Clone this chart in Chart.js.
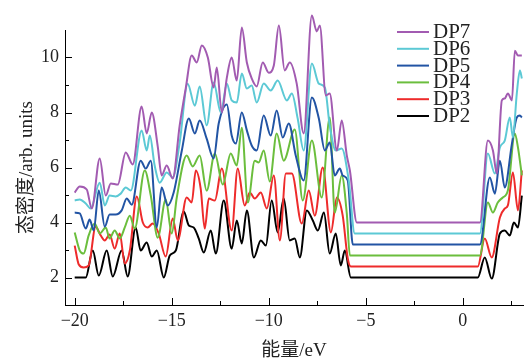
<!DOCTYPE html>
<html>
<head>
<meta charset="utf-8">
<script src="https://cdn.jsdelivr.net/npm/chart.js@4.4.0/dist/chart.umd.min.js"></script>
<style>
  html, body { margin: 0; padding: 0; background: #fff; }
</style>
</head>
<body>
<canvas id="dosChart" width="524" height="360"></canvas>
<script>
// 能量 (eV) / 态密度 读数
const dp2E = [-20.00, -19.43, -19.07, -18.76, -18.35, -18.04, -17.58, -17.27, -16.86, -16.60, -16.29, -16.03, -15.77, -15.41, -15.10, -14.79, -14.38, -14.12, -13.87, -13.61, -13.35, -12.99, -12.73, -12.32, -11.91, -11.65, -11.39, -11.13, -10.77, -10.41, -10.15, -9.85, -9.54, -9.23, -8.92, -8.66, -8.40, -8.04, -7.73, -7.47, -7.16, -6.86, -6.55, -6.29, -6.08, -5.77, 0.77, 1.13, 1.49, 1.91, 2.16, 2.42, 2.63, 2.84, 3.04];
const dp2 = [2.00, 2.00, 2.98, 2.07, 2.98, 2.04, 2.98, 2.04, 3.82, 2.98, 3.27, 2.76, 2.98, 2.00, 2.80, 2.98, 4.40, 3.89, 3.82, 3.42, 2.91, 3.71, 2.87, 4.80, 3.05, 4.07, 3.24, 4.44, 2.73, 3.35, 3.16, 4.80, 3.64, 4.87, 3.35, 3.42, 2.73, 4.44, 4.07, 3.71, 4.36, 2.87, 3.60, 2.44, 2.98, 2.00, 2.00, 2.73, 1.96, 3.60, 3.71, 3.53, 4.00, 3.82, 4.98];

const dp3E = [-20.00, -19.79, -19.54, -19.28, -18.92, -18.66, -18.45, -18.20, -17.94, -17.68, -17.42, -17.16, -16.80, -16.49, -16.24, -15.98, -15.67, -15.31, -14.95, -14.69, -14.23, -13.97, -13.76, -13.51, -13.30, -13.09, -12.78, -12.42, -11.91, -11.60, -11.24, -10.98, -10.72, -10.41, -10.10, -9.74, -9.43, -9.12, -8.81, -8.30, -7.94, -7.63, -7.22, -6.80, -6.49, -6.19, -5.93, -5.77, 0.77, 1.13, 1.49, 1.91, 2.16, 2.32, 2.58, 2.84, 3.04];
const dp3 = [3.16, 2.47, 2.36, 2.44, 3.85, 3.53, 3.35, 3.56, 3.05, 3.60, 2.51, 2.98, 4.95, 4.00, 3.82, 3.96, 3.60, 2.76, 4.15, 3.35, 4.91, 4.73, 5.89, 5.24, 3.78, 4.87, 4.80, 5.96, 3.71, 5.96, 4.62, 5.09, 4.87, 5.09, 4.51, 5.71, 3.35, 5.78, 5.78, 3.96, 5.16, 4.25, 6.00, 3.64, 4.91, 4.25, 2.69, 2.40, 2.40, 3.42, 2.73, 4.18, 4.51, 4.62, 5.82, 4.44, 5.89];

const dp4E = [-20.00, -19.74, -19.54, -19.28, -18.97, -18.71, -18.40, -18.20, -17.94, -17.68, -17.42, -17.16, -16.91, -16.39, -16.08, -15.72, -15.31, -15.00, -14.74, -14.23, -13.92, -13.56, -13.20, -12.78, -12.37, -11.96, -11.65, -11.39, -11.08, -10.72, -10.52, -10.26, -9.95, -9.59, -9.23, -8.66, -8.25, -7.78, -7.27, -6.86, -6.60, -6.24, -5.98, -5.82, 0.88, 1.29, 1.55, 1.80, 2.06, 2.32, 2.68, 2.84, 3.04];
const dp4 = [3.64, 2.98, 2.87, 3.53, 3.96, 3.60, 3.82, 3.42, 3.71, 3.42, 3.82, 4.25, 3.78, 5.89, 4.98, 3.45, 4.84, 3.60, 4.91, 6.44, 6.04, 6.44, 5.16, 6.51, 5.38, 6.51, 6.07, 7.45, 4.73, 6.25, 6.18, 6.62, 5.49, 7.24, 6.25, 7.38, 4.80, 6.98, 4.91, 7.82, 4.36, 5.71, 4.33, 2.80, 2.80, 4.73, 4.36, 4.73, 4.91, 5.16, 7.24, 6.73, 5.71];

const dp5E = [-20.00, -19.74, -19.43, -19.23, -19.02, -18.76, -18.45, -18.20, -17.89, -17.58, -17.32, -17.06, -16.60, -16.34, -16.08, -15.77, -15.52, -15.21, -14.90, -14.48, -14.12, -13.81, -13.56, -13.20, -12.84, -12.58, -12.16, -11.91, -11.70, -11.39, -11.13, -10.88, -10.62, -10.26, -9.90, -9.59, -9.28, -8.97, -8.61, -8.20, -7.78, -7.42, -7.11, -6.86, -6.60, -6.34, -6.19, -5.93, -5.67, 0.88, 1.39, 1.65, 1.91, 2.16, 2.53, 2.78, 2.94, 3.04];
const dp5 = [4.36, 4.33, 3.78, 4.11, 3.71, 5.16, 3.85, 4.29, 4.29, 4.44, 4.87, 4.65, 6.25, 5.96, 6.25, 3.82, 5.27, 4.62, 5.09, 6.62, 7.78, 7.24, 7.71, 7.05, 6.33, 7.60, 8.29, 7.16, 6.87, 8.00, 7.35, 6.80, 6.62, 7.89, 7.16, 8.07, 7.09, 7.60, 6.44, 5.53, 8.55, 7.78, 6.62, 6.91, 5.71, 5.96, 5.71, 5.53, 3.20, 3.20, 5.64, 5.05, 6.25, 5.27, 6.87, 7.82, 7.89, 7.82];

const dp6E = [-20.00, -19.74, -19.43, -19.18, -18.71, -18.45, -18.20, -17.89, -17.63, -17.37, -17.11, -16.55, -16.29, -16.13, -15.88, -15.62, -15.26, -14.95, -14.59, -14.18, -13.81, -13.56, -13.20, -12.84, -12.47, -12.16, -11.91, -11.65, -11.39, -11.13, -10.88, -10.62, -10.26, -9.90, -9.54, -9.07, -8.81, -8.51, -8.20, -7.78, -7.42, -7.11, -6.86, -6.55, -6.24, -5.88, -5.57, 0.88, 1.29, 1.65, 1.91, 2.16, 2.42, 2.58, 2.78, 2.94, 3.04];
const dp6 = [4.80, 4.84, 4.69, 4.51, 5.45, 4.62, 4.98, 4.95, 5.05, 5.27, 5.16, 7.35, 6.62, 7.16, 6.07, 5.45, 5.82, 5.64, 6.91, 9.05, 8.25, 8.95, 7.53, 9.09, 8.00, 9.05, 8.44, 8.36, 9.42, 8.87, 8.98, 8.36, 9.05, 8.80, 9.16, 8.44, 8.69, 7.78, 6.62, 9.78, 9.05, 8.91, 7.53, 6.62, 6.69, 5.53, 3.60, 3.60, 6.51, 5.78, 6.73, 6.98, 7.82, 7.09, 8.69, 9.53, 9.24];

const dp7E = [-20.00, -19.74, -19.38, -19.12, -18.71, -18.40, -18.14, -17.78, -17.37, -17.01, -16.55, -16.29, -16.03, -15.72, -15.52, -15.26, -14.95, -14.59, -14.28, -13.97, -13.71, -13.45, -13.14, -12.84, -12.68, -12.42, -12.16, -11.91, -11.65, -11.39, -11.13, -10.88, -10.62, -10.31, -10.00, -9.74, -9.48, -9.18, -8.92, -8.56, -8.20, -7.78, -7.53, -7.37, -7.06, -6.86, -6.49, -6.24, -5.98, -5.82, -5.46, 0.88, 1.29, 1.55, 1.75, 2.01, 2.16, 2.32, 2.53, 2.68, 2.84, 3.04];
const dp7 = [5.09, 5.31, 5.20, 4.51, 6.33, 4.98, 5.42, 5.38, 6.55, 6.11, 8.22, 7.24, 8.00, 6.76, 5.71, 6.07, 5.60, 7.53, 8.87, 10.07, 9.82, 10.44, 10.00, 8.91, 9.64, 8.00, 9.27, 10.00, 9.16, 11.09, 9.82, 9.24, 8.95, 9.82, 9.45, 9.71, 11.16, 9.53, 9.82, 9.05, 7.24, 11.53, 10.95, 11.16, 8.62, 8.69, 6.62, 7.71, 6.44, 5.89, 4.00, 4.00, 6.98, 6.62, 5.78, 8.44, 8.51, 8.69, 8.44, 10.25, 10.07, 10.07];

// 刻度
const xTicks = [-20, -15, -10, -5, 0];
const xMinor = [-17.5, -12.5, -7.5, -2.5, 2.5];
const yTicks = [2, 4, 6, 8, 10];
const yMinor = [3, 5, 7, 9];

const serif = "'Liberation Serif', 'Noto Sans CJK SC', serif";

const pts = (xs, ys) => xs.map((e, i) => ({ x: e, y: ys[i] }));

// 坐标轴内侧刻度线
const innerTicks = {
  id: 'innerTicks',
  afterDraw(chart) {
    const { ctx, chartArea, scales: { x, y } } = chart;
    ctx.save();
    ctx.strokeStyle = '#000';
    ctx.lineWidth = 1;
    const xMark = (v, len) => {
      const px = Math.round(x.getPixelForValue(v)) + 0.5;
      ctx.beginPath();
      ctx.moveTo(px, chartArea.bottom);
      ctx.lineTo(px, chartArea.bottom - len);
      ctx.stroke();
    };
    const yMark = (v, len) => {
      const py = Math.round(y.getPixelForValue(v)) + 0.5;
      ctx.beginPath();
      ctx.moveTo(chartArea.left, py);
      ctx.lineTo(chartArea.left + len, py);
      ctx.stroke();
    };
    xTicks.forEach(v => xMark(v, 7));
    xMinor.forEach(v => xMark(v, 4));
    yTicks.forEach(v => yMark(v, 7));
    yMinor.forEach(v => yMark(v, 4));
    ctx.restore();
  }
};

// 图例（右上角）
const legendBox = {
  id: 'legendBox',
  afterDraw(chart) {
    const { ctx, chartArea } = chart;
    const x0 = chartArea.right - 126;
    const y0 = chartArea.top + 2;
    ctx.save();
    ctx.font = '21px ' + serif;
    ctx.textBaseline = 'alphabetic';
    chart.data.datasets.forEach((ds, i) => {
      const yy = y0 + i * 16.8;
      ctx.strokeStyle = ds.borderColor;
      ctx.lineWidth = 2;
      ctx.beginPath();
      ctx.moveTo(x0, yy);
      ctx.lineTo(x0 + 32, yy);
      ctx.stroke();
      ctx.fillStyle = '#222';
      ctx.fillText(ds.label, x0 + 36, yy + 6);
    });
    ctx.restore();
  }
};

const series = [
  { label: 'DP7', data: pts(dp7E, dp7), color: '#A25BB1' },
  { label: 'DP6', data: pts(dp6E, dp6), color: '#5CC9D5' },
  { label: 'DP5', data: pts(dp5E, dp5), color: '#2254A4' },
  { label: 'DP4', data: pts(dp4E, dp4), color: '#6BBE3D' },
  { label: 'DP3', data: pts(dp3E, dp3), color: '#EE2B2B' },
  { label: 'DP2', data: pts(dp2E, dp2), color: '#000000' }
];

new Chart(document.getElementById('dosChart').getContext('2d'), {
  type: 'line',
  data: {
    datasets: series.map(s => ({
      label: s.label,
      data: s.data,
      borderColor: s.color,
      backgroundColor: s.color,
      borderWidth: 2,
      pointRadius: 0,
      cubicInterpolationMode: 'monotone',
      clip: false
    }))
  },
  options: {
    responsive: false,
    animation: false,
    layout: { padding: { top: 30, right: 1, bottom: 0, left: 0 } },
    plugins: {
      legend: { display: false },
      tooltip: { enabled: false }
    },
    scales: {
      x: {
        type: 'linear',
        min: -20.5,
        max: 3.1,
        grid: { display: false, drawTicks: false },
        border: { display: true, color: '#000', width: 1 },
        afterBuildTicks: s => { s.ticks = xTicks.map(v => ({ value: v })); },
        afterFit: s => { s.height = 55; },
        ticks: {
          padding: 5,
          color: '#222',
          maxRotation: 0,
          font: { family: serif, size: 18 },
          callback: v => (v < 0 ? '\u2212' + Math.abs(v) : String(v))
        },
        title: {
          display: true,
          text: '能量/eV',
          color: '#222',
          font: { family: serif, size: 19 },
          padding: { top: 0, bottom: -2 }
        }
      },
      y: {
        type: 'linear',
        min: 1,
        max: 11,
        grid: { display: false, drawTicks: false },
        border: { display: true, color: '#000', width: 1 },
        afterBuildTicks: s => { s.ticks = yTicks.map(v => ({ value: v })); },
        afterFit: s => { s.width = 65; },
        ticks: {
          padding: 6,
          color: '#222',
          font: { family: serif, size: 18 }
        },
        title: {
          display: true,
          text: '态密度/arb. units',
          color: '#222',
          font: { family: serif, size: 19 },
          padding: { top: 16, bottom: 0 }
        }
      }
    }
  },
  plugins: [innerTicks, legendBox]
});
</script>
</body>
</html>
